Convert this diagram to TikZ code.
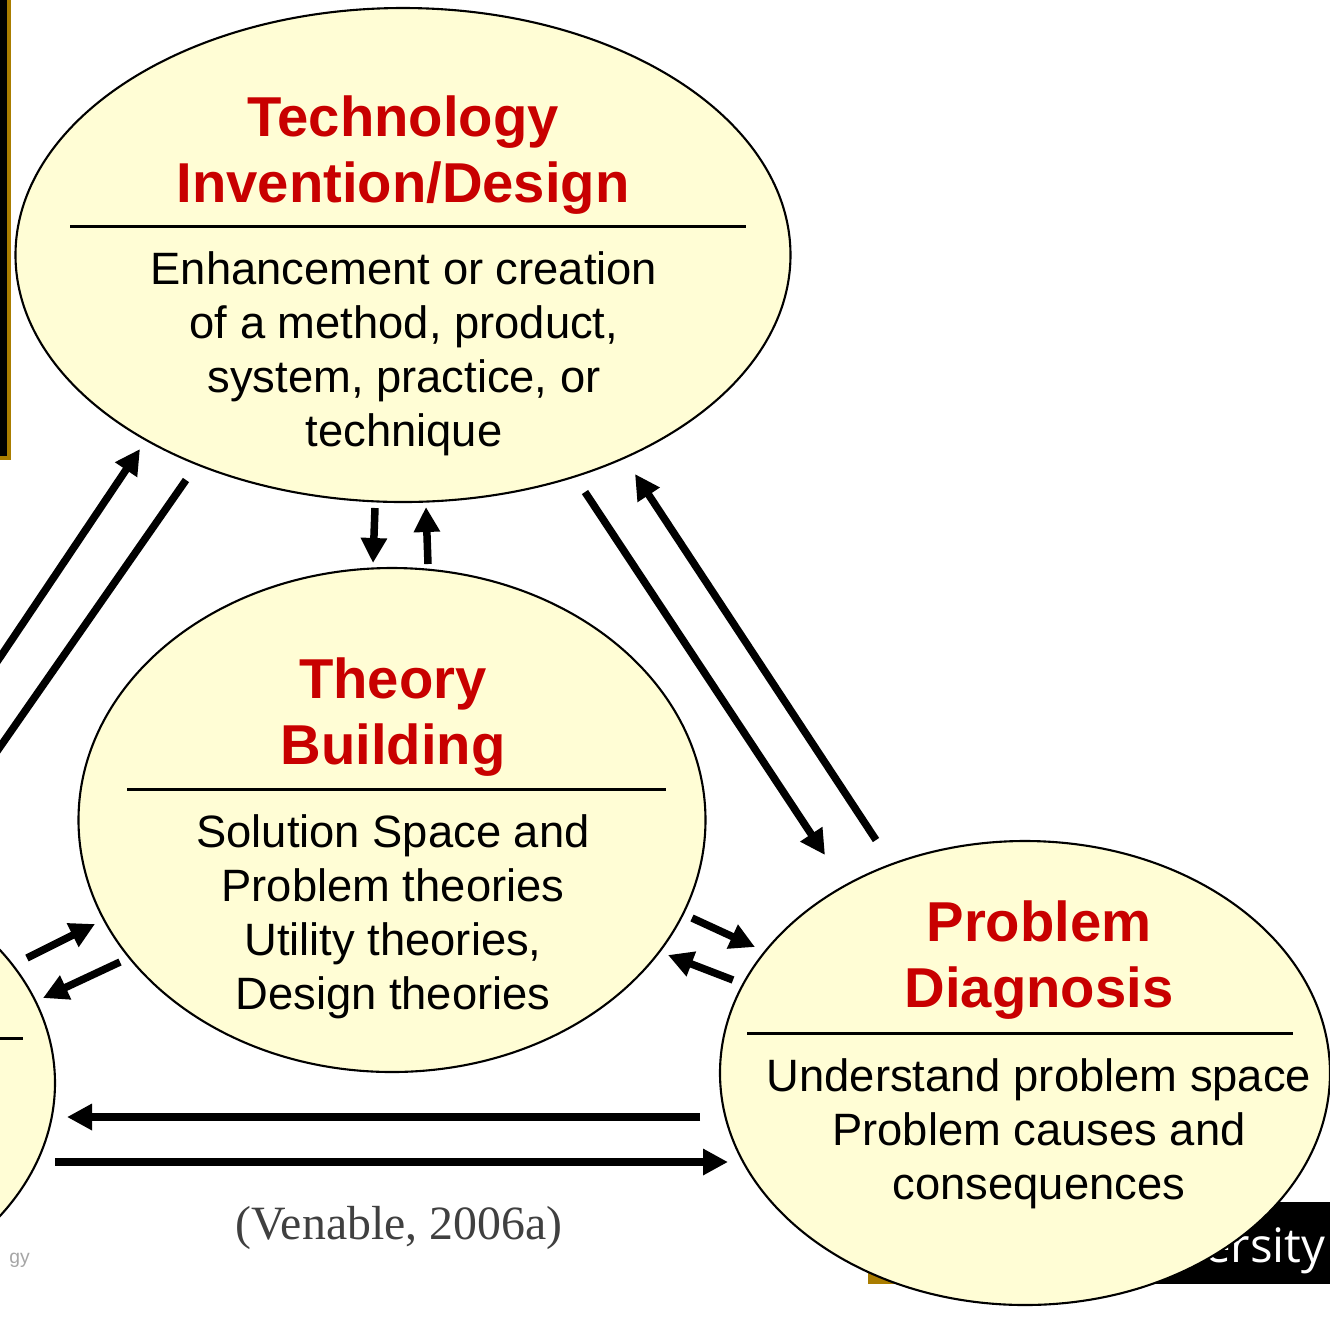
\documentclass[tikz,border=0pt]{standalone}
\usepackage{fontspec}
\setmainfont{Liberation Sans}
\newfontfamily\citefont{Liberation Serif}
\newfontfamily\logofont{Open Sans}
\usetikzlibrary{arrows.meta,shapes.geometric}
\definecolor{paleyellow}{RGB}{255,253,213}
\definecolor{titlered}{RGB}{200,0,0}
\definecolor{slidegold}{RGB}{170,125,0}
\definecolor{citegray}{RGB}{64,64,64}
\tikzset{
  bubble/.style={ellipse,draw=black,line width=0.6pt,fill=paleyellow,inner sep=0pt},
  heading/.style={text=titlered,align=center,font=\fontsize{16}{19}\selectfont\bfseries},
  blurb/.style={align=center,font=\fontsize{12.9}{15.4}\selectfont},
  flow/.style={line width=0.075cm,-{Triangle[length=0.25cm,width=0.25cm]}},
  divider/.style={line width=0.03cm},
}

\begin{document}
\begin{tikzpicture}
		%%%%% FRAME %%%%%
		\clip (0,0) rectangle (13.3,-13.21);
		\fill[white] (0,0) rectangle (13.3,-13.21);
		
		% slide decorations behind the bubbles
		\draw[draw=slidegold,fill=black,line width=0.04cm] (-0.5,0.5) rectangle (0.09,-4.58);
		\fill[slidegold] (8.68,-12.02) rectangle (13.5,-12.84);
		\fill[black] (9.10,-12.02) rectangle (13.5,-12.84);
		\node[anchor=base east,text=white,font=\logofont\fontsize{13.5}{15}\selectfont] (logo) at (13.38,-12.62) {ersity};
		\node[anchor=west,text=gray!70,font=\fontsize{5.5}{6}\selectfont] (footer) at (-0.03,-12.60) {gy};
		
		%%%%% BUBBLES %%%%%
		\node[bubble,minimum width=7.75cm,minimum height=4.94cm] (tech) at (4.03,-2.55) {};
		\node[bubble,minimum width=6.27cm,minimum height=5.04cm] (theory) at (3.92,-8.20) {};
		\node[bubble,minimum width=6.10cm,minimum height=4.64cm] (problem) at (10.25,-10.73) {};
		\node[bubble,minimum width=6.10cm,minimum height=4.64cm] (other) at (-2.50,-10.83) {};
		
		% technology invention / design
		\node[heading] (techtitle) at (4.03,-1.55) {Technology\\Invention/Design};
		\draw[divider] (0.70,-2.26) -- (7.46,-2.26);
		\node[blurb] (techtext) at (4.04,-3.54) {Enhancement or creation\\of a method, product,\\system, practice, or\\technique};
		
		% theory building
		\node[heading] (theorytitle) at (3.93,-7.17) {Theory\\Building};
		\draw[divider] (1.27,-7.89) -- (6.66,-7.89);
		\node[blurb] (theorytext) at (3.93,-9.17) {Solution Space and\\Problem theories\\Utility theories,\\Design theories};
		
		% problem diagnosis
		\node[heading] (problemtitle) at (10.39,-9.60) {Problem\\Diagnosis};
		\draw[divider] (7.47,-10.33) -- (12.93,-10.33);
		\node[blurb] (problemtext) at (10.39,-11.34) {Understand problem space\\Problem causes and\\consequences};
		
		\draw[divider] (-0.5,-10.38) -- (0.23,-10.38);
		
		%%%%% ARROWS %%%%%
		\coordinate (techdownA) at (3.75,-5.08);
		\coordinate (techdownB) at (3.73,-5.63);
		\coordinate (theoryupA) at (4.28,-5.64);
		\coordinate (theoryupB) at (4.26,-5.07);
		\draw[flow] (techdownA) -- (techdownB);
		\draw[flow] (theoryupA) -- (theoryupB);
		
		\coordinate (techprobA) at (5.85,-4.92);
		\coordinate (techprobB) at (8.25,-8.55);
		\coordinate (probtechA) at (8.76,-8.40);
		\coordinate (probtechB) at (6.35,-4.74);
		\draw[flow] (techprobA) -- (techprobB);
		\draw[flow] (probtechA) -- (probtechB);
		
		\coordinate (theoryprobA) at (6.92,-9.18);
		\coordinate (theoryprobB) at (7.55,-9.47);
		\coordinate (probtheoryA) at (7.33,-9.80);
		\coordinate (probtheoryB) at (6.68,-9.55);
		\draw[flow] (theoryprobA) -- (theoryprobB);
		\draw[flow] (probtheoryA) -- (probtheoryB);
		
		\coordinate (othertheoryA) at (0.27,-9.58);
		\coordinate (othertheoryB) at (0.95,-9.24);
		\coordinate (theoryotherA) at (1.20,-9.62);
		\coordinate (theoryotherB) at (0.43,-9.98);
		\draw[flow] (othertheoryA) -- (othertheoryB);
		\draw[flow] (theoryotherA) -- (theoryotherB);
		
		\coordinate (probotherA) at (7.00,-11.17);
		\coordinate (probotherB) at (0.67,-11.17);
		\coordinate (otherprobA) at (0.55,-11.62);
		\coordinate (otherprobB) at (7.28,-11.62);
		\draw[flow] (probotherA) -- (probotherB);
		\draw[flow] (otherprobA) -- (otherprobB);
		
		\coordinate (othertechA) at (-0.30,-7.02);
		\coordinate (othertechB) at (1.40,-4.49);
		\coordinate (techotherA) at (1.86,-4.80);
		\coordinate (techotherB) at (-0.30,-7.90);
		\draw[flow] (othertechA) -- (othertechB);
		\draw[line width=0.075cm] (techotherA) -- (techotherB);
		
		% citation
		\node[text=citegray,font=\citefont\fontsize{13.6}{16}\selectfont] (cite) at (3.99,-12.28) {(Venable, 2006a)};
		%%%%% END %%%%%
	\end{tikzpicture}
\end{document}
